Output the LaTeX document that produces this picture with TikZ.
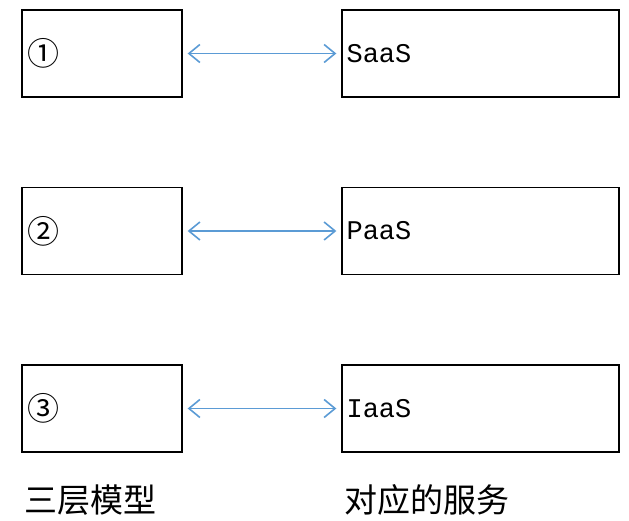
\documentclass[tikz,border=0pt]{standalone}
\usepackage{fontspec}
\setmainfont{Liberation Mono}
\newfontfamily\cjk{Noto Sans CJK SC}
\usetikzlibrary{positioning,arrows.meta}
\definecolor{linkblue}{RGB}{91,155,213}

\begin{document}
\begin{tikzpicture}[x=1pt,y=-1pt,
  layer/.style={draw,rectangle,line width=1.3pt,minimum width=160pt,minimum height=87pt,inner sep=0pt},
  svc/.style={draw,rectangle,line width=1.3pt,minimum width=277pt,minimum height=87pt,inner sep=0pt},
  lbl/.style={anchor=west,inner sep=0pt,font=\fontsize{27pt}{30pt}\selectfont},
  link/.style={linkblue,line width=1.6pt,{Straight Barb[length=11pt,width=18pt]}-{Straight Barb[length=11pt,width=18pt]}}]
\useasboundingbox (0,0) rectangle (629,521);
% three layers and their services
\foreach \n/\y/\c/\s in {1/53.5/①/SaaS,2/231/②/PaaS,3/408.5/③/IaaS}{
  \node[layer] (m\n) at (102,\y) {};
  \node[svc] (s\n) at (480.5,\y) {};
  \node[lbl,font=\cjk\fontsize{32pt}{34pt}\selectfont] (c\n) at ([xshift=6pt]m\n.west) {\c};
  \node[lbl] (t\n) at ([xshift=5pt]s\n.west) {\s};
  \draw[link] ([xshift=5pt]m\n.east) -- ([xshift=-5pt]s\n.west);
}
\node[lbl,font=\cjk\fontsize{33pt}{36pt}\selectfont] (cap1) at (24,500) {三层模型};
\node[lbl,font=\cjk\fontsize{33pt}{36pt}\selectfont] (cap2) at (344,500) {对应的服务};
\end{tikzpicture}
\end{document}
